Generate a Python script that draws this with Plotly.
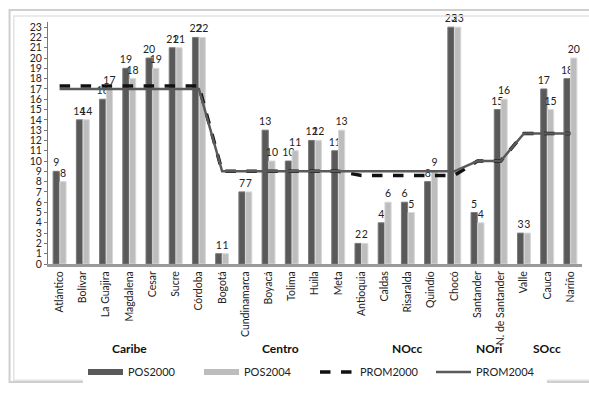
import plotly.graph_objects as go

departamentos = ["Atlántico", "Bolívar", "La Guajira", "Magdalena", "Cesar", "Sucre", "Córdoba",
                 "Bogotá", "Cundinamarca", "Boyacá", "Tolima", "Huila", "Meta",
                 "Antioquia", "Caldas", "Risaralda", "Quindío", "Chocó",
                 "Santander", "N. de Santander",
                 "Valle", "Cauca", "Nariño"]
pos2000 = [9, 14, 16, 19, 20, 21, 22, 1, 7, 13, 10, 12, 11, 2, 4, 6, 8, 23, 5, 15, 3, 17, 18]
pos2004 = [8, 14, 17, 18, 19, 21, 22, 1, 7, 10, 11, 12, 13, 2, 6, 5, 9, 23, 4, 16, 3, 15, 20]
prom2000 = [17.29]*7 + [9.0]*6 + [8.6]*5 + [10.0]*2 + [12.67]*3
prom2004 = [17.0]*7 + [9.0]*6 + [9.0]*5 + [10.0]*2 + [12.67]*3
regiones = ["Caribe", "Centro", "NOcc", "NOri", "SOcc"]
region_sizes = [7, 6, 5, 2, 3]

FONT = "Lato, 'Open Sans', sans-serif"
DARK = "#595959"
LIGHT = "#bdbdbd"

fig = go.Figure()
fig.add_trace(go.Bar(x=departamentos, y=pos2000, name="POS2000", showlegend=False,
                     marker=dict(color=DARK, line=dict(color="#7a7a7a", width=1)),
                     text=pos2000, textposition="outside", cliponaxis=False,
                     constraintext="none",
                     textfont=dict(size=10.5, color="#222")))
fig.add_trace(go.Bar(x=departamentos, y=pos2004, name="POS2004", showlegend=False,
                     marker=dict(color=LIGHT, line=dict(color="#d8d8d8", width=1)),
                     text=pos2004, textposition="outside", cliponaxis=False,
                     constraintext="none",
                     textfont=dict(size=10.5, color="#222")))
# legend entries drawn as wide flat bars, as in the reference
fig.add_trace(go.Scatter(x=[departamentos[0]], y=[None], name="POS2000", mode="lines",
                         line=dict(color=DARK, width=6), legendrank=1))
fig.add_trace(go.Scatter(x=[departamentos[0]], y=[None], name="POS2004", mode="lines",
                         line=dict(color=LIGHT, width=6), legendrank=2))
fig.add_trace(go.Scatter(x=departamentos, y=prom2000, name="PROM2000", mode="lines",
                         line=dict(color="#111", width=3.5, dash="dash"), legendrank=3))
fig.add_trace(go.Scatter(x=departamentos, y=prom2004, name="PROM2004", mode="lines",
                         line=dict(color="#5a5a5a", width=2.5), legendrank=4))

# region labels
start = 0
for name, n in zip(regiones, region_sizes):
    center = start + (n - 1) / 2
    fig.add_annotation(x=center, y=-0.35, xref="x", yref="paper", yanchor="middle",
                       text="<b>%s</b>" % name,
                       showarrow=False, font=dict(size=12, color="#111", family=FONT))
    start += n

# outer border
fig.add_shape(type="rect", xref="paper", yref="paper", x0=-0.072, x1=1.02, y0=-0.488, y1=1.05,
              line=dict(color="#cfcfcf", width=2))
fig.add_shape(type="rect", xref="paper", yref="paper", x0=-0.064, x1=1.02, y0=-0.48, y1=1.025,
              line=dict(color="#e3e3e3", width=1.5))

fig.update_layout(
    width=589, height=394,
    margin=dict(l=48, r=7, t=22, b=123),
    paper_bgcolor="white", plot_bgcolor="white",
    font=dict(family=FONT, size=10, color="#222"),
    barmode="group", bargap=0.42, bargroupgap=0.08,
    showlegend=True, hovermode=False,
    legend=dict(orientation="h", x=0.5, xanchor="center", y=-0.446, yanchor="middle",
                font=dict(size=11), itemwidth=35, entrywidth=66, entrywidthmode="pixels",
                tracegroupgap=0, traceorder="normal"),
    xaxis=dict(type="category", tickangle=-90, tickfont=dict(size=10.5), showline=True,
               linecolor="#9a9a9a", linewidth=3, ticks="", showgrid=False),
    yaxis=dict(range=[0, 23.5], dtick=1, tick0=0, showgrid=False, showline=True,
               linecolor="#777", linewidth=1, ticks="outside", ticklen=3, tickcolor="#777",
               tickfont=dict(size=10.5), zeroline=False),
)

fig.write_html("out.html", config={"displayModeBar": False},
               post_script="document.body.style.margin='0';document.body.style.overflow='hidden';")
